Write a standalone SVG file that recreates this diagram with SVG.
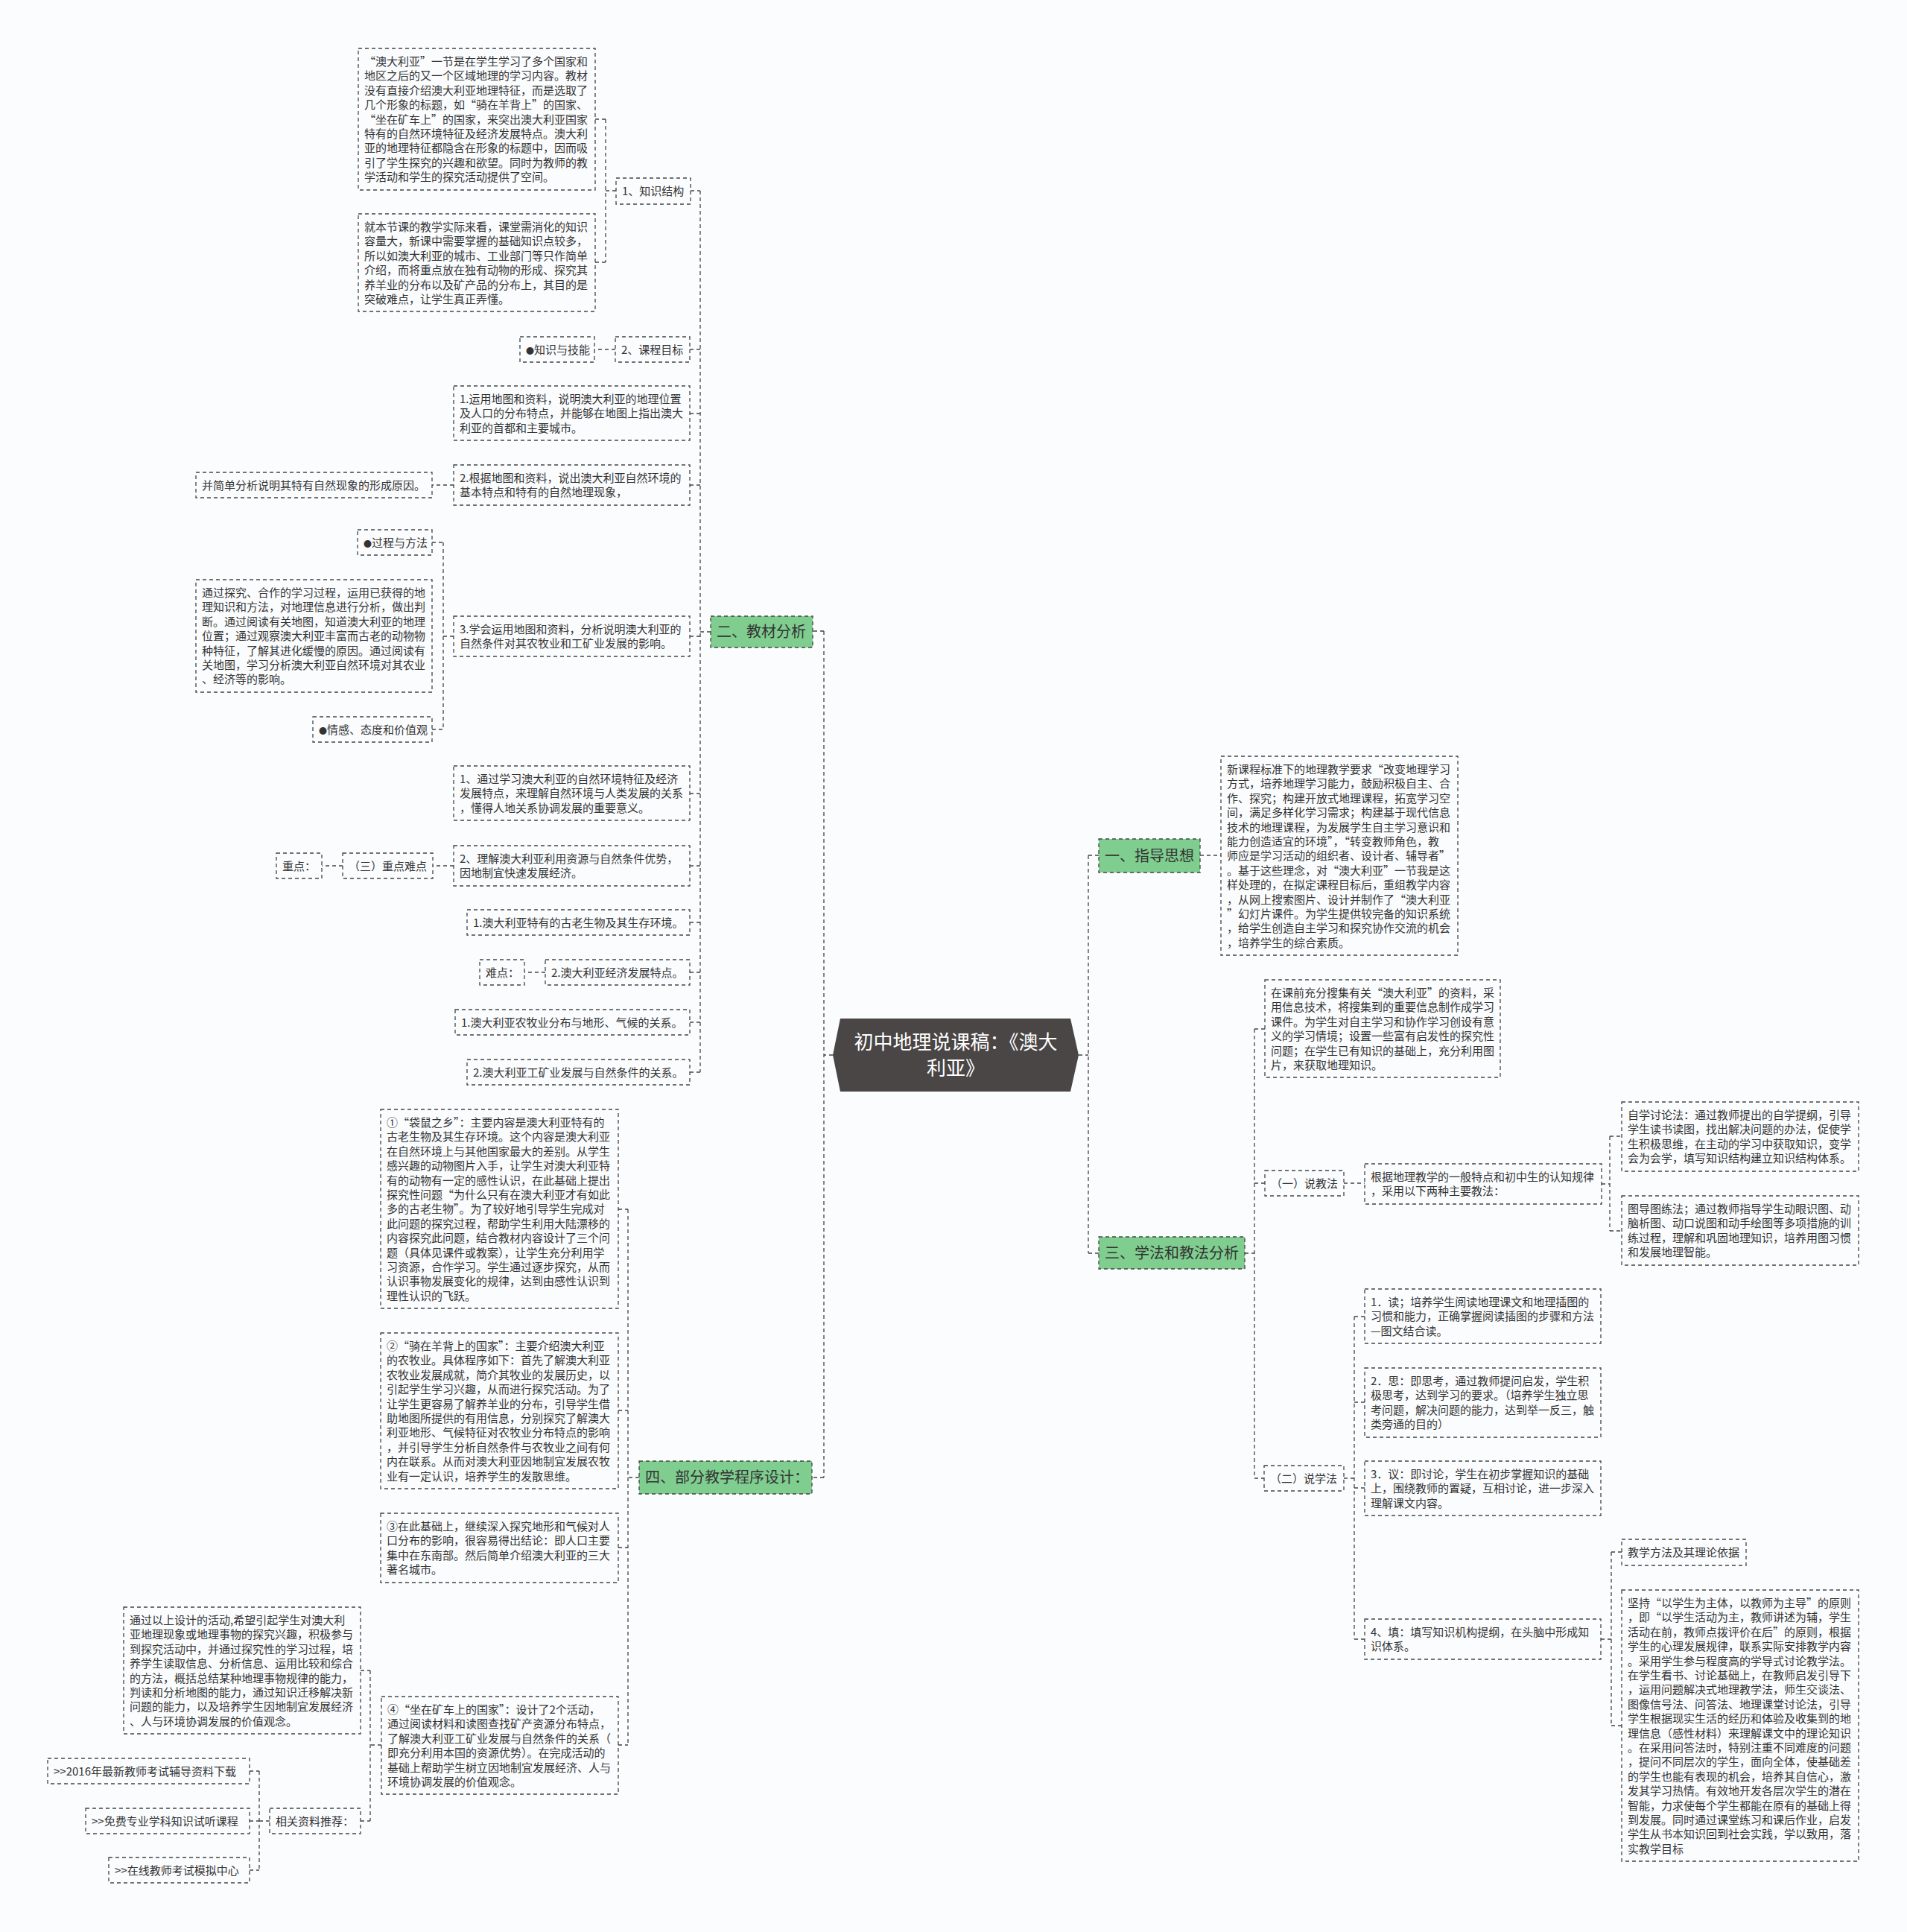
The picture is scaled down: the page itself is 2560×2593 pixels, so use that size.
<svg xmlns="http://www.w3.org/2000/svg" width="2560" height="2593" viewBox="0 0 2560 2593">
<style>
.bg{fill:#fafcfe}
.b{fill:none;stroke:#444;stroke-width:1.3;stroke-dasharray:5 4}
.g{fill:#7fcd8f;stroke:#444;stroke-width:1.3;stroke-dasharray:5 4}
.c{fill:none;stroke:#444;stroke-width:1.3;stroke-dasharray:5 4}
.t{font-family:"Noto Sans CJK SC","Noto Sans",sans-serif;font-size:15px;fill:#333}
.s{font-family:"Noto Sans CJK SC","Noto Sans",sans-serif;font-size:20px;fill:#333}
.m{font-family:"Noto Sans CJK SC","Noto Sans",sans-serif;font-size:26px;fill:#fff;text-anchor:middle}
.dot{font-size:11px}
</style>
<rect class="bg" x="0" y="0" width="2560" height="2593"/>
<g id="connectors">
<path class="c" d="M1118,1416 H1106 M1106,847 V1983 M1106,847 H1091 M1106,1983 H1090"/>
<path class="c" d="M954,848 H940 M940,256 V1439 M927,256 H940 M926,469 H940 M926,555 H940 M926,651 H940 M926,854 H940 M926,1065 H940 M926,1162 H940 M926,1238 H940 M926,1305 H940 M926,1372 H940 M926,1439 H940"/>
<path class="c" d="M827,256 H813 M813,160 V352 M799,160 H813 M799,352 H813"/>
<path class="c" d="M826,469 H798 M609,651 H580"/>
<path class="c" d="M609,854 H595 M595,728 V979 M580,728 H595 M580,979 H595"/>
<path class="c" d="M609,1162 H581 M460,1162 H432 M732,1305 H704"/>
<path class="c" d="M858,1983 H843 M843,1623 V2342 M830,1623 H843 M830,1893 H843 M830,2077 H843 M830,2342 H843"/>
<path class="c" d="M512,2342 H497 M497,2242 V2444 M484,2242 H497 M484,2444 H497"/>
<path class="c" d="M362,2444 H348 M348,2377 V2510 M335,2377 H348 M335,2444 H348 M335,2510 H348"/>
<path class="c" d="M1448,1416 H1461 M1461,1148 V1682 M1461,1148 H1475 M1461,1682 H1475 M1611,1148 H1639"/>
<path class="c" d="M1671,1682 H1684 M1684,1381 V1984 M1684,1381 H1698 M1684,1588 H1698 M1684,1984 H1697 M1804,1588 H1832"/>
<path class="c" d="M2150,1589 H2161 M2161,1525 V1652 M2161,1525 H2177 M2161,1652 H2177"/>
<path class="c" d="M1804,1984 H1818 M1818,1767 V2200 M1818,1767 H1832 M1818,1882 H1832 M1818,1997 H1832 M1818,2200 H1832"/>
<path class="c" d="M2149,2200 H2163 M2163,2083 V2316 M2163,2083 H2177 M2163,2316 H2177"/>
</g>
<g id="root">
<polygon points="1128,1367 1437,1367 1448,1416 1437,1465 1128,1465 1118,1416" fill="#4a4646"/>
<text class="m" x="1283" y="1408">初中地理说课稿：《澳大</text>
<text class="m" x="1283" y="1443">利亚》</text>
</g>
<g id="sec2"><rect class="g" x="954" y="827" width="137" height="42"/><text class="s" x="962" y="855">二、教材分析</text></g>
<g id="sec4"><rect class="g" x="858" y="1961" width="232" height="44"/><text class="s" x="866" y="1990">四、部分教学程序设计：</text></g>
<g id="sec1"><rect class="g" x="1475" y="1126" width="136" height="45"/><text class="s" x="1483" y="1156">一、指导思想</text></g>
<g id="sec3"><rect class="g" x="1475" y="1660" width="196" height="43"/><text class="s" x="1483" y="1689">三、学法和教法分析</text></g>

<g id="n_a1"><rect class="b" x="481" y="65" width="318" height="190"/>
<text class="t" x="489" y="88"><tspan x="489">“澳大利亚”一节是在学生学习了多个国家和</tspan><tspan x="489" dy="19.4">地区之后的又一个区域地理的学习内容。教材</tspan><tspan x="489" dy="19.4">没有直接介绍澳大利亚地理特征，而是选取了</tspan><tspan x="489" dy="19.4">几个形象的标题，如“骑在羊背上”的国家、</tspan><tspan x="489" dy="19.4">“坐在矿车上”的国家，来突出澳大利亚国家</tspan><tspan x="489" dy="19.4">特有的自然环境特征及经济发展特点。澳大利</tspan><tspan x="489" dy="19.4">亚的地理特征都隐含在形象的标题中，因而吸</tspan><tspan x="489" dy="19.4">引了学生探究的兴趣和欲望。同时为教师的教</tspan><tspan x="489" dy="19.4">学活动和学生的探究活动提供了空间。</tspan></text></g>
<g id="n_a2"><rect class="b" x="481" y="287" width="318" height="131"/>
<text class="t" x="489" y="310"><tspan x="489">就本节课的教学实际来看，课堂需消化的知识</tspan><tspan x="489" dy="19.4">容量大，新课中需要掌握的基础知识点较多，</tspan><tspan x="489" dy="19.4">所以如澳大利亚的城市、工业部门等只作简单</tspan><tspan x="489" dy="19.4">介绍，而将重点放在独有动物的形成、探究其</tspan><tspan x="489" dy="19.4">养羊业的分布以及矿产品的分布上，其目的是</tspan><tspan x="489" dy="19.4">突破难点，让学生真正弄懂。</tspan></text></g>
<g id="n_zsjg"><rect class="b" x="827" y="239" width="100" height="35"/><text class="t" x="835" y="262">1、知识结构</text></g>
<g id="n_zyjn"><rect class="b" x="698" y="452" width="100" height="34"/><text class="t" x="706" y="475"><tspan class="dot">●</tspan>知识与技能</text></g>
<g id="n_kcmb"><rect class="b" x="826" y="452" width="100" height="34"/><text class="t" x="834" y="475">2、课程目标</text></g>
<g id="n_yy"><rect class="b" x="609" y="518" width="317" height="73"/>
<text class="t" x="617" y="541"><tspan x="617">1.运用地图和资料，说明澳大利亚的地理位置</tspan><tspan x="617" dy="19.4">及人口的分布特点，并能够在地图上指出澳大</tspan><tspan x="617" dy="19.4">利亚的首都和主要城市。</tspan></text></g>
<g id="n_gj"><rect class="b" x="609" y="624" width="317" height="54"/>
<text class="t" x="617" y="647"><tspan x="617">2.根据地图和资料，说出澳大利亚自然环境的</tspan><tspan x="617" dy="19.4">基本特点和特有的自然地理现象，</tspan></text></g>
<g id="n_jd"><rect class="b" x="263" y="634" width="317" height="34"/><text class="t" x="271" y="657">并简单分析说明其特有自然现象的形成原因。</text></g>
<g id="n_gcff"><rect class="b" x="480" y="711" width="100" height="34"/><text class="t" x="488" y="734"><tspan class="dot">●</tspan>过程与方法</text></g>
<g id="n_tgtj"><rect class="b" x="263" y="778" width="317" height="151"/>
<text class="t" x="271" y="801"><tspan x="271">通过探究、合作的学习过程，运用已获得的地</tspan><tspan x="271" dy="19.4">理知识和方法，对地理信息进行分析，做出判</tspan><tspan x="271" dy="19.4">断。通过阅读有关地图，知道澳大利亚的地理</tspan><tspan x="271" dy="19.4">位置；通过观察澳大利亚丰富而古老的动物物</tspan><tspan x="271" dy="19.4">种特征，了解其进化缓慢的原因。通过阅读有</tspan><tspan x="271" dy="19.4">关地图，学习分析澳大利亚自然环境对其农业</tspan><tspan x="271" dy="19.4">、经济等的影响。</tspan></text></g>
<g id="n_qg"><rect class="b" x="420" y="962" width="160" height="34"/><text class="t" x="428" y="985"><tspan class="dot">●</tspan>情感、态度和价值观</text></g>
<g id="n_xh"><rect class="b" x="609" y="827" width="317" height="54"/>
<text class="t" x="617" y="850"><tspan x="617">3.学会运用地图和资料，分析说明澳大利亚的</tspan><tspan x="617" dy="19.4">自然条件对其农牧业和工矿业发展的影响。</tspan></text></g>
<g id="n_tgxx"><rect class="b" x="609" y="1028" width="317" height="73"/>
<text class="t" x="617" y="1051"><tspan x="617">1、通过学习澳大利亚的自然环境特征及经济</tspan><tspan x="617" dy="19.4">发展特点，来理解自然环境与人类发展的关系</tspan><tspan x="617" dy="19.4">，懂得人地关系协调发展的重要意义。</tspan></text></g>
<g id="n_lj"><rect class="b" x="609" y="1135" width="317" height="54"/>
<text class="t" x="617" y="1158"><tspan x="617">2、理解澳大利亚利用资源与自然条件优势，</tspan><tspan x="617" dy="19.4">因地制宜快速发展经济。</tspan></text></g>
<g id="n_zdnd"><rect class="b" x="460" y="1145" width="121" height="34"/><text class="t" x="468" y="1168">（三）重点难点</text></g>
<g id="n_zd"><rect class="b" x="371" y="1145" width="61" height="34"/><text class="t" x="379" y="1168">重点：</text></g>
<g id="n_gl"><rect class="b" x="627" y="1221" width="299" height="34"/><text class="t" x="635" y="1244">1.澳大利亚特有的古老生物及其生存环境。</text></g>
<g id="n_nd"><rect class="b" x="644" y="1288" width="60" height="34"/><text class="t" x="652" y="1311">难点：</text></g>
<g id="n_jj"><rect class="b" x="732" y="1288" width="194" height="34"/><text class="t" x="740" y="1311">2.澳大利亚经济发展特点。</text></g>
<g id="n_nm"><rect class="b" x="611" y="1355" width="315" height="34"/><text class="t" x="619" y="1378">1.澳大利亚农牧业分布与地形、气候的关系。</text></g>
<g id="n_gk"><rect class="b" x="627" y="1422" width="299" height="34"/><text class="t" x="635" y="1445">2.澳大利亚工矿业发展与自然条件的关系。</text></g>

<g id="n_ds"><rect class="b" x="511" y="1489" width="319" height="267"/>
<text class="t" x="519" y="1512"><tspan x="519">①“袋鼠之乡”：主要内容是澳大利亚特有的</tspan><tspan x="519" dy="19.4">古老生物及其生存环境。这个内容是澳大利亚</tspan><tspan x="519" dy="19.4">在自然环境上与其他国家最大的差别。从学生</tspan><tspan x="519" dy="19.4">感兴趣的动物图片入手，让学生对澳大利亚特</tspan><tspan x="519" dy="19.4">有的动物有一定的感性认识，在此基础上提出</tspan><tspan x="519" dy="19.4">探究性问题“为什么只有在澳大利亚才有如此</tspan><tspan x="519" dy="19.4">多的古老生物”。为了较好地引导学生完成对</tspan><tspan x="519" dy="19.4">此问题的探究过程，帮助学生利用大陆漂移的</tspan><tspan x="519" dy="19.4">内容探究此问题，结合教材内容设计了三个问</tspan><tspan x="519" dy="19.4">题（具体见课件或教案），让学生充分利用学</tspan><tspan x="519" dy="19.4">习资源，合作学习。学生通过逐步探究，从而</tspan><tspan x="519" dy="19.4">认识事物发展变化的规律，达到由感性认识到</tspan><tspan x="519" dy="19.4">理性认识的飞跃。</tspan></text></g>
<g id="n_qz"><rect class="b" x="511" y="1789" width="319" height="209"/>
<text class="t" x="519" y="1812"><tspan x="519">②“骑在羊背上的国家”：主要介绍澳大利亚</tspan><tspan x="519" dy="19.4">的农牧业。具体程序如下：首先了解澳大利亚</tspan><tspan x="519" dy="19.4">农牧业发展成就，简介其牧业的发展历史，以</tspan><tspan x="519" dy="19.4">引起学生学习兴趣，从而进行探究活动。为了</tspan><tspan x="519" dy="19.4">让学生更容易了解养羊业的分布，引导学生借</tspan><tspan x="519" dy="19.4">助地图所提供的有用信息，分别探究了解澳大</tspan><tspan x="519" dy="19.4">利亚地形、气候特征对农牧业分布特点的影响</tspan><tspan x="519" dy="19.4">，并引导学生分析自然条件与农牧业之间有何</tspan><tspan x="519" dy="19.4">内在联系。从而对澳大利亚因地制宜发展农牧</tspan><tspan x="519" dy="19.4">业有一定认识，培养学生的发散思维。</tspan></text></g>
<g id="n_zc"><rect class="b" x="511" y="2031" width="319" height="93"/>
<text class="t" x="519" y="2054"><tspan x="519">③在此基础上，继续深入探究地形和气候对人</tspan><tspan x="519" dy="19.4">口分布的影响，很容易得出结论：即人口主要</tspan><tspan x="519" dy="19.4">集中在东南部。然后简单介绍澳大利亚的三大</tspan><tspan x="519" dy="19.4">著名城市。</tspan></text></g>
<g id="n_tgys"><rect class="b" x="166" y="2157" width="318" height="170"/>
<text class="t" x="174" y="2180"><tspan x="174">通过以上设计的活动,希望引起学生对澳大利</tspan><tspan x="174" dy="19.4">亚地理现象或地理事物的探究兴趣，积极参与</tspan><tspan x="174" dy="19.4">到探究活动中，并通过探究性的学习过程，培</tspan><tspan x="174" dy="19.4">养学生读取信息、分析信息、运用比较和综合</tspan><tspan x="174" dy="19.4">的方法，概括总结某种地理事物规律的能力，</tspan><tspan x="174" dy="19.4">判读和分析地图的能力，通过知识迁移解决新</tspan><tspan x="174" dy="19.4">问题的能力，以及培养学生因地制宜发展经济</tspan><tspan x="174" dy="19.4">、人与环境协调发展的价值观念。</tspan></text></g>
<g id="n_kc"><rect class="b" x="512" y="2277" width="318" height="131"/>
<text class="t" x="520" y="2300"><tspan x="520">④“坐在矿车上的国家”：设计了2个活动，</tspan><tspan x="520" dy="19.4">通过阅读材料和读图查找矿产资源分布特点，</tspan><tspan x="520" dy="19.4">了解澳大利亚工矿业发展与自然条件的关系（</tspan><tspan x="520" dy="19.4">即充分利用本国的资源优势）。在完成活动的</tspan><tspan x="520" dy="19.4">基础上帮助学生树立因地制宜发展经济、人与</tspan><tspan x="520" dy="19.4">环境协调发展的价值观念。</tspan></text></g>
<g id="n_xgzl"><rect class="b" x="362" y="2427" width="122" height="34"/><text class="t" x="370" y="2450">相关资料推荐：</text></g>
<g id="n_l1"><rect class="b" x="64" y="2360" width="271" height="34"/><text class="t" x="72" y="2383">&gt;&gt;2016年最新教师考试辅导资料下载</text></g>
<g id="n_l2"><rect class="b" x="115" y="2427" width="220" height="34"/><text class="t" x="123" y="2450">&gt;&gt;免费专业学科知识试听课程</text></g>
<g id="n_l3"><rect class="b" x="146" y="2493" width="189" height="34"/><text class="t" x="154" y="2516">&gt;&gt;在线教师考试模拟中心</text></g>

<g id="n_xkc"><rect class="b" x="1639" y="1015" width="318" height="267"/>
<text class="t" x="1647" y="1038"><tspan x="1647">新课程标准下的地理教学要求“改变地理学习</tspan><tspan x="1647" dy="19.4">方式，培养地理学习能力，鼓励积极自主、合</tspan><tspan x="1647" dy="19.4">作、探究；构建开放式地理课程，拓宽学习空</tspan><tspan x="1647" dy="19.4">间，满足多样化学习需求；构建基于现代信息</tspan><tspan x="1647" dy="19.4">技术的地理课程，为发展学生自主学习意识和</tspan><tspan x="1647" dy="19.4">能力创造适宜的环境”，“转变教师角色，教</tspan><tspan x="1647" dy="19.4">师应是学习活动的组织者、设计者、辅导者”</tspan><tspan x="1647" dy="19.4">。基于这些理念，对“澳大利亚”一节我是这</tspan><tspan x="1647" dy="19.4">样处理的，在拟定课程目标后，重组教学内容</tspan><tspan x="1647" dy="19.4">，从网上搜索图片、设计并制作了“澳大利亚</tspan><tspan x="1647" dy="19.4">”幻灯片课件。为学生提供较完备的知识系统</tspan><tspan x="1647" dy="19.4">，给学生创造自主学习和探究协作交流的机会</tspan><tspan x="1647" dy="19.4">，培养学生的综合素质。</tspan></text></g>
<g id="n_kq"><rect class="b" x="1698" y="1315" width="316" height="131"/>
<text class="t" x="1706" y="1338"><tspan x="1706">在课前充分搜集有关“澳大利亚”的资料，采</tspan><tspan x="1706" dy="19.4">用信息技术，将搜集到的重要信息制作成学习</tspan><tspan x="1706" dy="19.4">课件。为学生对自主学习和协作学习创设有意</tspan><tspan x="1706" dy="19.4">义的学习情境；设置一些富有启发性的探究性</tspan><tspan x="1706" dy="19.4">问题；在学生已有知识的基础上，充分利用图</tspan><tspan x="1706" dy="19.4">片，来获取地理知识。</tspan></text></g>
<g id="n_sjf"><rect class="b" x="1698" y="1571" width="106" height="34"/><text class="t" x="1706" y="1594">（一）说教法</text></g>
<g id="n_gjdl"><rect class="b" x="1832" y="1562" width="318" height="54"/>
<text class="t" x="1840" y="1585"><tspan x="1840">根据地理教学的一般特点和初中生的认知规律</tspan><tspan x="1840" dy="19.4">，采用以下两种主要教法：</tspan></text></g>
<g id="n_zx"><rect class="b" x="2177" y="1479" width="318" height="93"/>
<text class="t" x="2185" y="1502"><tspan x="2185">自学讨论法：通过教师提出的自学提纲，引导</tspan><tspan x="2185" dy="19.4">学生读书读图，找出解决问题的办法，促使学</tspan><tspan x="2185" dy="19.4">生积极思维，在主动的学习中获取知识，变学</tspan><tspan x="2185" dy="19.4">会为会学，填写知识结构建立知识结构体系。</tspan></text></g>
<g id="n_tdt"><rect class="b" x="2177" y="1605" width="318" height="93"/>
<text class="t" x="2185" y="1628"><tspan x="2185">图导图练法；通过教师指导学生动眼识图、动</tspan><tspan x="2185" dy="19.4">脑析图、动口说图和动手绘图等多项措施的训</tspan><tspan x="2185" dy="19.4">练过程，理解和巩固地理知识，培养用图习惯</tspan><tspan x="2185" dy="19.4">和发展地理智能。</tspan></text></g>
<g id="n_sxf"><rect class="b" x="1697" y="1967" width="107" height="34"/><text class="t" x="1705" y="1990">（二）说学法</text></g>
<g id="n_d"><rect class="b" x="1832" y="1730" width="317" height="73"/>
<text class="t" x="1840" y="1753"><tspan x="1840">1．读；培养学生阅读地理课文和地理插图的</tspan><tspan x="1840" dy="19.4">习惯和能力，正确掌握阅读插图的步骤和方法</tspan><tspan x="1840" dy="19.4">—图文结合读。</tspan></text></g>
<g id="n_s"><rect class="b" x="1832" y="1836" width="317" height="93"/>
<text class="t" x="1840" y="1859"><tspan x="1840">2．思：即思考，通过教师提问启发，学生积</tspan><tspan x="1840" dy="19.4">极思考，达到学习的要求。（培养学生独立思</tspan><tspan x="1840" dy="19.4">考问题，解决问题的能力，达到举一反三，触</tspan><tspan x="1840" dy="19.4">类旁通的目的）</tspan></text></g>
<g id="n_y"><rect class="b" x="1832" y="1961" width="317" height="73"/>
<text class="t" x="1840" y="1984"><tspan x="1840">3．议：即讨论，学生在初步掌握知识的基础</tspan><tspan x="1840" dy="19.4">上，围绕教师的置疑，互相讨论，进一步深入</tspan><tspan x="1840" dy="19.4">理解课文内容。</tspan></text></g>
<g id="n_t"><rect class="b" x="1832" y="2173" width="317" height="54"/>
<text class="t" x="1840" y="2196"><tspan x="1840">4、填：填写知识机构提纲，在头脑中形成知</tspan><tspan x="1840" dy="19.4">识体系。</tspan></text></g>
<g id="n_jxff"><rect class="b" x="2177" y="2066" width="167" height="35"/><text class="t" x="2185" y="2089">教学方法及其理论依据</text></g>
<g id="n_jc"><rect class="b" x="2177" y="2134" width="318" height="364"/>
<text class="t" x="2185" y="2157"><tspan x="2185">坚持“以学生为主体，以教师为主导”的原则</tspan><tspan x="2185" dy="19.4">，即“以学生活动为主，教师讲述为辅，学生</tspan><tspan x="2185" dy="19.4">活动在前，教师点拨评价在后”的原则，根据</tspan><tspan x="2185" dy="19.4">学生的心理发展规律，联系实际安排教学内容</tspan><tspan x="2185" dy="19.4">。采用学生参与程度高的学导式讨论教学法。</tspan><tspan x="2185" dy="19.4">在学生看书、讨论基础上，在教师启发引导下</tspan><tspan x="2185" dy="19.4">，运用问题解决式地理教学法，师生交谈法、</tspan><tspan x="2185" dy="19.4">图像信号法、问答法、地理课堂讨论法，引导</tspan><tspan x="2185" dy="19.4">学生根据现实生活的经历和体验及收集到的地</tspan><tspan x="2185" dy="19.4">理信息（感性材料）来理解课文中的理论知识</tspan><tspan x="2185" dy="19.4">。在采用问答法时，特别注重不同难度的问题</tspan><tspan x="2185" dy="19.4">，提问不同层次的学生，面向全体，使基础差</tspan><tspan x="2185" dy="19.4">的学生也能有表现的机会，培养其自信心，激</tspan><tspan x="2185" dy="19.4">发其学习热情。有效地开发各层次学生的潜在</tspan><tspan x="2185" dy="19.4">智能，力求使每个学生都能在原有的基础上得</tspan><tspan x="2185" dy="19.4">到发展。同时通过课堂练习和课后作业，启发</tspan><tspan x="2185" dy="19.4">学生从书本知识回到社会实践，学以致用，落</tspan><tspan x="2185" dy="19.4">实教学目标</tspan></text></g>
</svg>
